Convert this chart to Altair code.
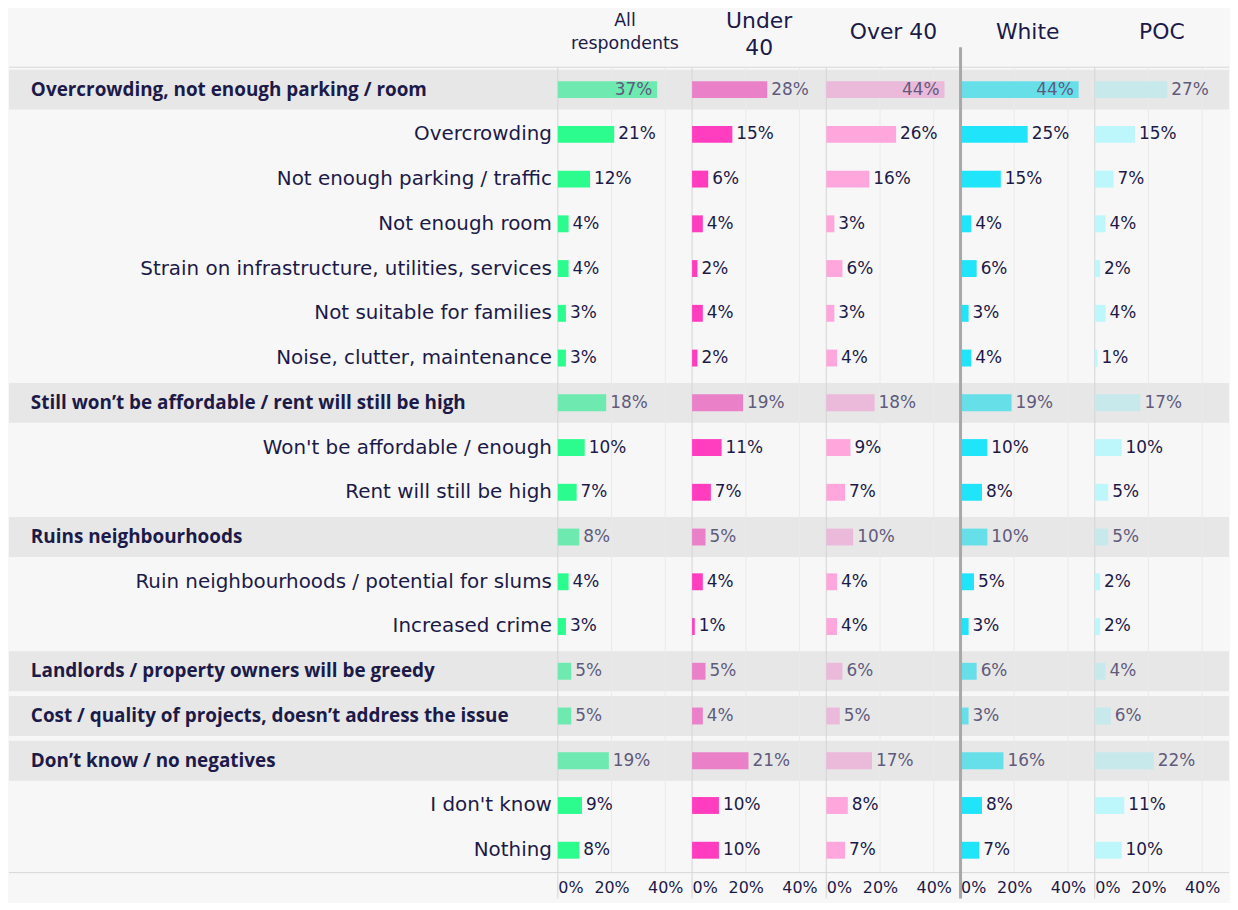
import altair as alt
import pandas as pd

# ---------------- data ----------------
labels = [
    "Overcrowding, not enough parking / room",
    "Overcrowding",
    "Not enough parking / traffic",
    "Not enough room",
    "Strain on infrastructure, utilities, services",
    "Not suitable for families",
    "Noise, clutter, maintenance",
    "Still won’t be affordable / rent will still be high",
    "Won't be affordable / enough",
    "Rent will still be high",
    "Ruins neighbourhoods",
    "Ruin neighbourhoods / potential for slums",
    "Increased crime",
    "Landlords / property owners will be greedy",
    "Cost / quality of projects, doesn’t address the issue",
    "Don’t know / no negatives",
    "I don't know",
    "Nothing",
]
is_group = [True, False, False, False, False, False, False,
            True, False, False,
            True, False, False,
            True, True,
            True, False, False]

all_resp = [37, 21, 12, 4, 4, 3, 3, 18, 10, 7, 8, 4, 3, 5, 5, 19, 9, 8]
under_40 = [28, 15, 6, 4, 2, 4, 2, 19, 11, 7, 5, 4, 1, 5, 4, 21, 10, 10]
over_40 = [44, 26, 16, 3, 6, 3, 4, 18, 9, 7, 10, 4, 4, 6, 5, 17, 8, 7]
white = [44, 25, 15, 4, 6, 3, 4, 19, 10, 8, 10, 5, 3, 6, 3, 16, 8, 7]
poc = [27, 15, 7, 4, 2, 4, 1, 17, 10, 5, 5, 2, 2, 4, 6, 22, 11, 10]

headers = [["All", "respondents"], ["Under", "40"], ["Over 40"], ["White"], ["POC"]]
series = [all_resp, under_40, over_40, white, poc]
sub_colors = ["#2cfb8e", "#ff3dbe", "#ffa6dd", "#20e4fa", "#bdf7fb"]
grp_colors = ["#6eeab0", "#ea80c8", "#ebb9da", "#67dfe9", "#c7e9ec"]
tick_vals = [0, 20, 40]

# ---------------- style ----------------
FONT = "DejaVu Sans"
BOLD_FONT = "Open Sans"
NAVY = "#1c1a48"
GREY_TXT = "#5f5b7d"
BAND = "#e7e7e7"
BG = "#f7f7f7"
LINE = "#d8d8d8"
LW = 552
PW = 135
H = 810

row_ids = [f"r{i:02d}" for i in range(len(labels))]
yscale = alt.Scale(domain=row_ids, paddingInner=0.11, paddingOuter=0.055)
Y = alt.Y("rid:N", axis=None, scale=yscale, sort=row_ids)

one = pd.DataFrame({"k": [0]})


def hline(width, yv):
    return alt.Chart(one).mark_rule(color=LINE, strokeWidth=1).encode(
        x=alt.value(0), x2=alt.value(width), y=alt.value(yv))


# label column
lab_df = pd.DataFrame({"rid": row_ids, "label": labels, "grp": is_group})
lab_base = alt.Chart(lab_df)
lab_band = lab_base.transform_filter("datum.grp").mark_rect(color=BAND).encode(
    y=Y, x=alt.value(0), x2=alt.value(LW))
lab_sub = lab_base.transform_filter("!datum.grp").mark_text(
    align="right", baseline="middle", font=FONT, fontSize=20, color=NAVY).encode(
    y=Y, x=alt.value(LW - 6), text="label:N")
lab_grp = lab_base.transform_filter("datum.grp").mark_text(
    align="left", baseline="middle", font=BOLD_FONT, fontSize=19, fontWeight="bold", color=NAVY).encode(
    y=Y, x=alt.value(22), text="label:N")
label_col = alt.layer(lab_band, lab_sub, lab_grp, hline(LW, 0), hline(LW, H)).properties(
    width=LW, height=H)


def panel(i):
    vals = series[i]
    df = pd.DataFrame({
        "rid": row_ids,
        "value": vals,
        "grp": is_group,
        "txt": [f"{v}%" for v in vals],
        "bcol": [grp_colors[i] if g else sub_colors[i] for g in is_group],
        "tcol": [GREY_TXT if g else NAVY for g in is_group],
    })
    base = alt.Chart(df)
    X = alt.X("value:Q", scale=alt.Scale(domain=[0, 50]),
              axis=alt.Axis(values=tick_vals, labelExpr="datum.value + '%'", grid=False,
                            domain=False, ticks=False, labelFontSize=16, labelFont=FONT,
                            labelColor=NAVY, labelPadding=7, title=None))
    band = base.transform_filter("datum.grp").mark_rect(color=BAND).encode(
        y=Y, x=alt.value(0), x2=alt.value(PW))
    grid = alt.Chart(pd.DataFrame({"value": [20, 40]})).mark_rule(
        color="#eaeaea", strokeWidth=1).encode(x="value:Q", y=alt.value(0), y2=alt.value(H))
    divider = alt.Chart(pd.DataFrame({"value": [0]})).mark_rule(
        color="#d4d4d4", strokeWidth=1).encode(x="value:Q", y=alt.value(0), y2=alt.value(H + 26))
    bars = base.mark_bar(height=17).encode(
        y=Y, x=X, color=alt.Color("bcol:N", scale=None))
    txt_out = base.transform_filter("datum.value <= 30").mark_text(
        align="left", baseline="middle", dx=4, font=FONT, fontSize=17).encode(
        y=Y, x="value:Q", text="txt:N", color=alt.Color("tcol:N", scale=None))
    txt_in = base.transform_filter("datum.value > 30").mark_text(
        align="right", baseline="middle", dx=-5, font=FONT, fontSize=17).encode(
        y=Y, x="value:Q", text="txt:N", color=alt.Color("tcol:N", scale=None))
    hdr = headers[i]
    if i == 0:
        head = alt.Chart(one).mark_text(text=hdr, align="center", baseline="middle",
                                        font=FONT, fontSize=17.5, lineHeight=23, color=NAVY).encode(
            x=alt.value(PW / 2), y=alt.value(-46))
    elif len(hdr) > 1:
        head = alt.Chart(one).mark_text(text=hdr, align="center", baseline="middle",
                                        font=FONT, fontSize=22, lineHeight=27, color=NAVY).encode(
            x=alt.value(PW / 2), y=alt.value(-46))
    else:
        head = alt.Chart(one).mark_text(text=hdr[0], align="center", baseline="middle",
                                        font=FONT, fontSize=22, color=NAVY).encode(
            x=alt.value(PW / 2), y=alt.value(-35))
    layers = [band, grid, divider, hline(PW, 0), hline(PW, H), bars, txt_out, txt_in, head]
    if i == 3:
        sep = alt.Chart(one).mark_rule(color="#a8a8a8", strokeWidth=3).encode(
            x=alt.value(0), y=alt.value(-20), y2=alt.value(H + 26))
        layers.append(sep)
    return alt.layer(*layers).properties(width=PW, height=H)


chart = alt.hconcat(label_col, *[panel(i) for i in range(5)], spacing=0, bounds="flush").configure(
    background=BG, padding=0).configure_view(stroke=None)

chart.save("out.html", embed_options={"renderer": "svg", "actions": False})
